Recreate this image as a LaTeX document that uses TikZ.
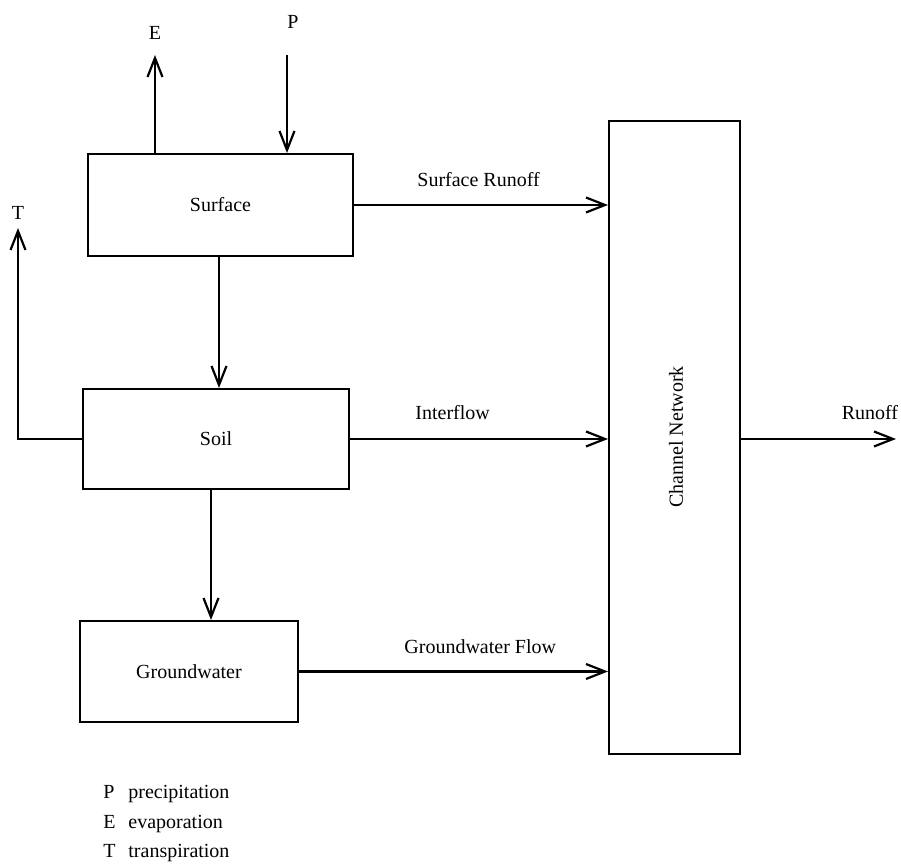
\documentclass[tikz,border=0pt]{standalone}
\usepackage{fontspec}
\setmainfont{Liberation Serif}
\usetikzlibrary{arrows.meta}
\begin{document}
\begin{tikzpicture}[x=0.5pt,y=-0.5pt,
  box/.style={draw,line width=1pt,inner sep=0pt,font=\fontsize{10}{12}\selectfont},
  arr/.style={line width=1.1pt,-{Straight Barb[length=9.5pt,width=7.5pt,line width=1.1pt]}},
  lbl/.style={font=\fontsize{10}{12}\selectfont,inner sep=0pt}]
\useasboundingbox (0,0) rectangle (901,865);
\node[box,minimum width=132.5pt,minimum height=51pt] (Surface) at (220.5,205) {Surface};
\node[box,minimum width=133pt,minimum height=50pt] (Soil) at (216,439) {Soil};
\node[box,minimum width=109pt,minimum height=50.5pt] (Groundwater) at (189,671.5) {Groundwater};
\node[box,minimum width=65.5pt,minimum height=316.5pt] (Channel) at (674.5,437.5) {};
\node[lbl,rotate=90] (chtext) at (676,437) {Channel Network};
% external coordinates
\coordinate (eE) at (155,55);
\coordinate (pP) at (287,55);
\coordinate (tT) at (18,228);
\coordinate (sg) at (211,0);
\coordinate (ss) at (219,0);
\coordinate (rR) at (896,439);
% labels
\node[lbl] (Elab) at (155,33) {E};
\node[lbl] (Plab) at (293,22) {P};
\node[lbl] (Tlab) at (18,213) {T};
\node[lbl,anchor=west] (srl) at (417,180) {Surface Runoff};
\node[lbl,anchor=west] (ifl) at (415,413) {Interflow};
\node[lbl,anchor=west] (gfl) at (404,647) {Groundwater Flow};
\node[lbl] (rol) at (870,413) {Runoff};
% arrows
\draw[arr] (eE |- Surface.north) -- (eE);
\draw[arr] (pP) -- (pP |- Surface.north);
\draw[arr] (Soil.west) -| (tT);
\draw[arr] (ss |- Surface.south) -- (ss |- Soil.north);
\draw[arr] (sg |- Soil.south) -- (sg |- Groundwater.north);
\draw[arr] (Surface.east) -- (Surface.east -| Channel.west);
\draw[arr] (Soil.east) -- (Soil.east -| Channel.west);
\draw[arr] (Groundwater.east) -- (Groundwater.east -| Channel.west);
\draw[arr] (Channel.east |- rR) -- (rR);
% legend
\node[lbl,anchor=base west] (l1a) at (103,799) {P};
\node[lbl,anchor=base west] (l1b) at (128,799) {precipitation};
\node[lbl,anchor=base west] (l2a) at (103,829) {E};
\node[lbl,anchor=base west] (l2b) at (128,829) {evaporation};
\node[lbl,anchor=base west] (l3a) at (103,858) {T};
\node[lbl,anchor=base west] (l3b) at (128,858) {transpiration};
\end{tikzpicture}
\end{document}
